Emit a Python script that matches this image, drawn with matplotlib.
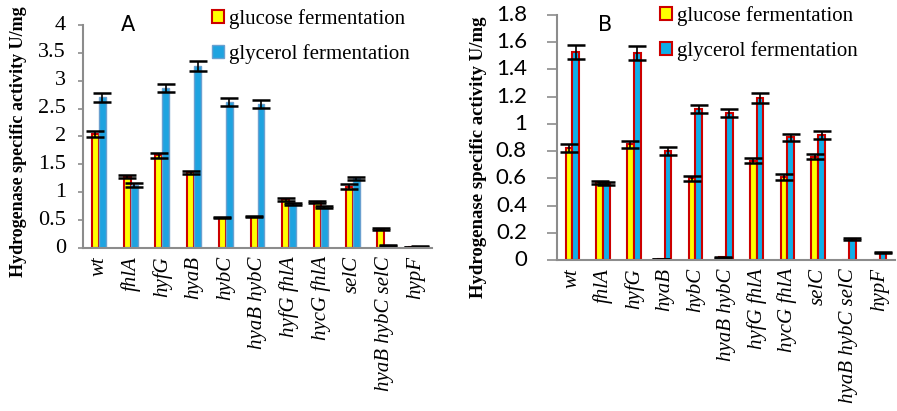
import numpy as np
import matplotlib
matplotlib.use('Agg')
import matplotlib.pyplot as plt
import matplotlib.transforms as mtransforms
from matplotlib.patches import Patch

# Штаммы (подписи по оси X)
strains = ['wt', 'fhlA', 'hyfG', 'hyaB', 'hybC', 'hyaB hybC', 'hyfG fhlA',
           'hycG fhlA', 'selC', 'hyaB hybC selC', 'hypF']

# Панель A
a_glucose = [2.05, 1.28, 1.66, 1.36, 0.54, 0.56, 0.87, 0.83, 1.10, 0.34, 0.01]
a_glucose_err = [0.05, 0.03, 0.04, 0.03, 0.01, 0.01, 0.02, 0.02, 0.04, 0.01, 0.0]
a_glycerol = [2.70, 1.13, 2.87, 3.27, 2.62, 2.59, 0.79, 0.73, 1.25, 0.05, 0.02]
a_glycerol_err = [0.08, 0.03, 0.08, 0.09, 0.07, 0.07, 0.02, 0.02, 0.03, 0.01, 0.01]
a_ticks = ['0', '0.5', '1', '1.5', '2', '2.5', '3', '3.5', '4']

# Панель B
b_glucose = [0.82, 0.57, 0.85, 0.005, 0.60, 0.02, 0.73, 0.61, 0.76, 0.0, 0.003]
b_glucose_err = [0.03, 0.01, 0.025, 0.0, 0.02, 0.005, 0.02, 0.02, 0.02, 0.0, 0.0]
b_glycerol = [1.53, 0.56, 1.52, 0.80, 1.11, 1.08, 1.19, 0.90, 0.92, 0.155, 0.055]
b_glycerol_err = [0.05, 0.01, 0.05, 0.03, 0.03, 0.03, 0.04, 0.025, 0.03, 0.005, 0.005]
b_ticks = ['0', '0.2', '0.4', '0.6', '0.8', '1', '1.2', '1.4', '1.6', '1.8']

ylabel = 'Hydrogenase specific activity U/mg'
serif = 'Liberation Serif'

fig = plt.figure(figsize=(8.97, 4.11), dpi=100)
ax_a = fig.add_axes([83 / 897, 1 - 248 / 411, 349 / 897, 223 / 411])
ax_b = fig.add_axes([557 / 897, 1 - 260 / 411, 338 / 897, 245 / 411])

x = np.arange(len(strains))
w = 0.22
err_kw = dict(ecolor='black', elinewidth=1.2, capsize=6.5, capthick=1.8)


def style_axes(ax, ymax, step, ticklabels, tick_font, tick_size, tick_len, gap_px):
    ax.set_xlim(-0.5, len(strains) - 0.5)
    ax.set_ylim(0, ymax)
    ticks = np.arange(len(ticklabels)) * step
    ax.set_yticks(ticks)
    ax.tick_params(axis='y', color='#8c8c8c', length=tick_len, width=1.2, labelleft=False)
    # подписи оси Y ставим вручную, с отступом от оси
    trans = mtransforms.offset_copy(ax.get_yaxis_transform(), fig=fig,
                                    x=-gap_px, y=0, units='dots')
    for v, s in zip(ticks, ticklabels):
        ax.text(0, v, s, transform=trans, ha='right', va='center',
                family=tick_font, fontsize=tick_size, clip_on=False)
    for s in ['top', 'right']:
        ax.spines[s].set_visible(False)
    for s in ['left', 'bottom']:
        ax.spines[s].set_color('#8c8c8c')
        ax.spines[s].set_linewidth(1.5)
    ax.tick_params(axis='x', length=0, pad=6)
    ax.set_xticks(x)
    ax.set_xticklabels(strains, rotation=90, family=serif, style='italic',
                       fontsize=15, va='top', ha='center')


# A
ax_a.bar(x - w / 2, a_glucose, w, color='#ffff00', edgecolor='#cc0000', linewidth=1.5,
         yerr=a_glucose_err, error_kw=err_kw, zorder=2)
ax_a.bar(x + w / 2, a_glycerol, w, color='#1ea3e0', edgecolor='#6aa0d0', linewidth=1.0,
         yerr=a_glycerol_err, error_kw=err_kw, zorder=2)
style_axes(ax_a, 4, 0.5, a_ticks, serif, 16, 3.6, 17)
fig.text(19 / 897, 1 - 142 / 411, ylabel, rotation=90, family=serif, fontweight='bold',
         fontsize=13, ha='center', va='center')
fig.text(128 / 897, 1 - 25 / 411, 'A', family='DejaVu Sans', fontsize=15, ha='center', va='center')
handles_a = [Patch(facecolor='#ffff00', edgecolor='#cc0000', linewidth=1.5),
             Patch(facecolor='#1ea3e0', edgecolor='#6aa0d0', linewidth=1.0)]
fig.legend(handles_a, ['glucose fermentation', 'glycerol fermentation'], loc='upper left',
           bbox_to_anchor=(193 / 897, 1 + 10 / 411), frameon=False, handlelength=0.6,
           handleheight=0.6, handletextpad=0.25, labelspacing=0.75,
           prop={'family': serif, 'size': 15})

# B
ax_b.bar(x - w / 2, b_glucose, w, color='#ffff00', edgecolor='#cc0000', linewidth=1.5,
         yerr=b_glucose_err, error_kw=err_kw, zorder=2)
ax_b.bar(x + w / 2, b_glycerol, w, color='#10aee8', edgecolor='#cc0000', linewidth=1.5,
         yerr=b_glycerol_err, error_kw=err_kw, zorder=2)
style_axes(ax_b, 1.8, 0.2, b_ticks, 'Lato', 16, 7, 30)
fig.text(478 / 897, 1 - 157 / 411, ylabel, rotation=90, family=serif, fontweight='bold',
         fontsize=13.5, ha='center', va='center')
fig.text(605 / 897, 1 - 25 / 411, 'B', family='DejaVu Sans', fontsize=15, ha='center', va='center')
handles_b = [Patch(facecolor='#ffff00', edgecolor='#cc0000', linewidth=1.5),
             Patch(facecolor='#10aee8', edgecolor='#cc0000', linewidth=1.5)]
fig.legend(handles_b, ['glucose fermentation', 'glycerol fermentation'], loc='upper left',
           bbox_to_anchor=(641 / 897, 1 + 13 / 411), frameon=False, handlelength=0.6,
           handleheight=0.6, handletextpad=0.25, labelspacing=0.75,
           prop={'family': serif, 'size': 15})

fig.savefig('out.png', dpi=100)
